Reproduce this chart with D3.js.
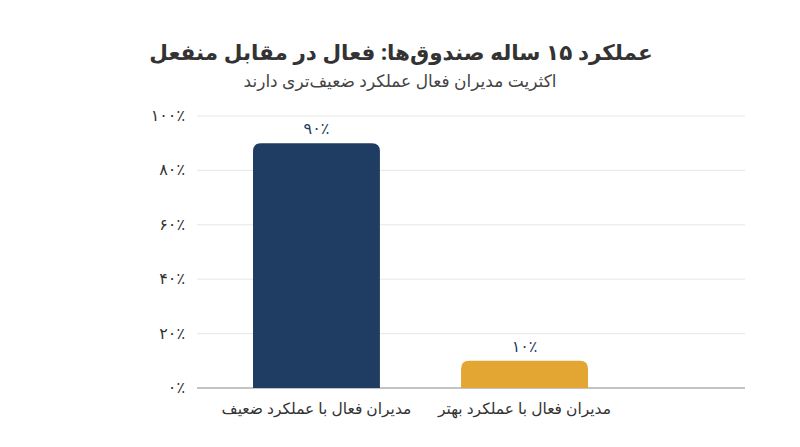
<!DOCTYPE html>
<html><head><meta charset="utf-8">
<script src="https://cdn.jsdelivr.net/npm/d3@7"></script>
<style>body{margin:0;background:#fff}</style></head>
<body><svg id="c" width="800" height="447"></svg>
<script>
const categories=["مدیران فعال با عملکرد ضعیف","مدیران فعال با عملکرد بهتر"];
const values=[90,10];
const valueLabels=["۹۰٪","۱۰٪"];
const tickValues=[0,20,40,60,80,100];
const tickLabels=["۰٪","۲۰٪","۴۰٪","۶۰٪","۸۰٪","۱۰۰٪"];
const colors=["#1f3d63","#e3a633"];
const title="عملکرد ۱۵ ساله صندوق‌ها: فعال در مقابل منفعل";
const subtitle="اکثریت مدیران فعال عملکرد ضعیف‌تری دارند";

const svg=d3.select("#c");
const font="'Noto Sans', 'DejaVu Sans', sans-serif";
const y=d3.scaleLinear().domain([0,100]).range([388,116]);
const x=d3.scaleBand().domain(categories).range([211.4,629.6]).paddingInner(0.39).paddingOuter(0.2);

svg.append("text").attr("x",401).attr("y",60).attr("text-anchor","middle").attr("direction","rtl")
 .attr("font-family",font).attr("font-weight","bold").attr("font-size",21.5).attr("fill","#333").text(title);
svg.append("text").attr("x",400).attr("y",87).attr("text-anchor","middle").attr("direction","rtl")
 .attr("font-family",font).attr("font-size",17).attr("fill","#444").text(subtitle);

const g=svg.append("g");
tickValues.forEach((t,i)=>{
  g.append("line").attr("x1",197).attr("x2",745).attr("y1",y(t)).attr("y2",y(t))
   .attr("stroke",t===0?"#888":"#e6e6e6").attr("stroke-width",1);
  g.append("text").attr("x",185).attr("y",y(t)+5).attr("text-anchor","end")
   .attr("font-family",font).attr("font-size",16).attr("fill","#333").text(tickLabels[i]);
});
const r=8;
categories.forEach((c,i)=>{
  const x0=x(c),w=x.bandwidth(),y0=y(values[i]),y1=y(0);
  g.append("path").attr("fill",colors[i])
   .attr("d",`M${x0},${y1}V${y0+r}Q${x0},${y0} ${x0+r},${y0}H${x0+w-r}Q${x0+w},${y0} ${x0+w},${y0+r}V${y1}Z`);
  g.append("text").attr("x",x0+w/2).attr("y",y0-9).attr("text-anchor","middle")
   .attr("font-family",font).attr("font-size",16).attr("fill","#1f3d63").text(valueLabels[i]);
  g.append("text").attr("x",x0+w/2).attr("y",414).attr("text-anchor","middle").attr("direction","rtl")
   .attr("font-family",font).attr("font-size",15.5).attr("fill","#333").text(c);
});
</script></body></html>
